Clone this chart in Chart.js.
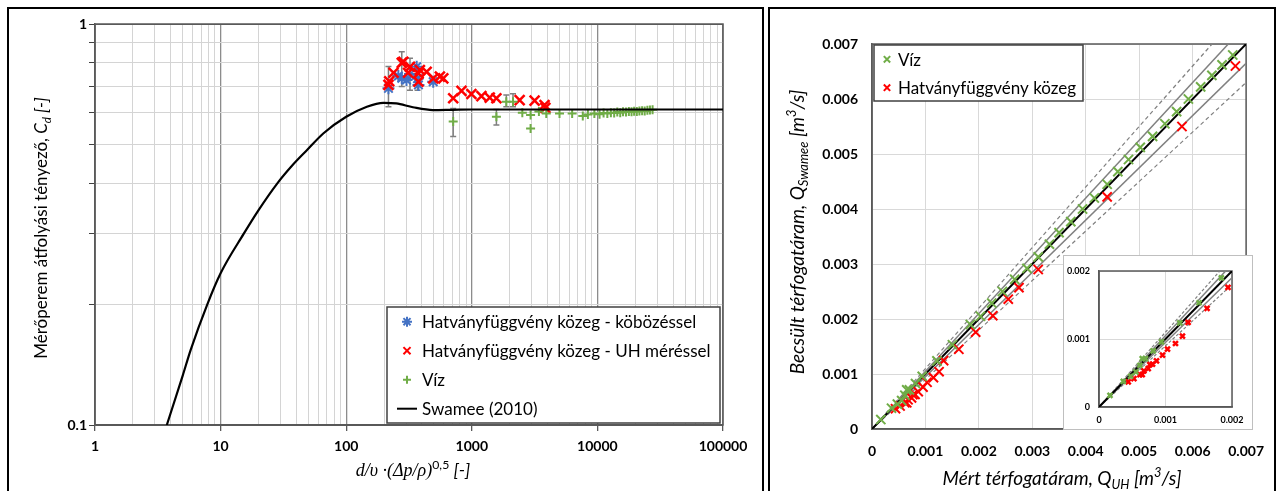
<!DOCTYPE html>
<html>
<head>
<meta charset="utf-8">
<script src="https://cdn.jsdelivr.net/npm/chart.js@4/dist/chart.umd.min.js"></script>
<style>
  body { margin: 0; background: #fff; }
  #wrap { position: relative; width: 1278px; height: 491px; overflow: hidden; }
  .frame { position: absolute; border: 2px solid #000; box-sizing: border-box; }
  canvas { position: absolute; }
  #insetBox { position: absolute; left: 1063px; top: 255px; width: 190px; height: 175px;
              background: #fff; border: 1px solid #bfbfbf; box-sizing: border-box; }
</style>
</head>
<body>
<div id="wrap">
  <div class="frame" style="left:7px;top:7px;width:757px;height:500px"></div>
  <div class="frame" style="left:768px;top:7px;width:508px;height:500px"></div>
  <canvas id="cdChart" width="766" height="491" style="left:0;top:0"></canvas>
  <canvas id="qChart" width="512" height="491" style="left:766px;top:0"></canvas>
  <div id="insetBox"></div>
  <canvas id="insetChart" width="188" height="172" style="left:1064px;top:256px"></canvas>
</div>
<script>
var FONT = 'Lato, "Open Sans", sans-serif';
var GREEN = '#70ad47', RED = '#ff0000', BLUE = '#4472c4';

// ---- bal diagram: Cd a d/v*(dp/rho)^0.5 fuggvenyeben ----
var xDecades = [1, 10, 100, 1000, 10000, 100000];
var xTickLabels = ['1', '10', '100', '1000', '10000', '100000'];
var yDecades = [0.1, 1];
var yTickLabels = ['0.1', '1'];
var minorSteps = [2, 3, 4, 5, 6, 7, 8, 9];

var swameeX = [3.73, 5, 5.78, 7.84, 10, 15.3, 20, 28.2, 37, 48.8, 66, 100, 146, 198, 250, 340, 490, 700, 1000, 100000];
var swameeY = [0.1, 0.133, 0.154, 0.2, 0.239, 0.3, 0.343, 0.4, 0.443, 0.485, 0.534, 0.587, 0.622, 0.636, 0.634, 0.62, 0.61, 0.611, 0.612, 0.612];

var kobX  = [217, 260, 277, 302, 322, 364, 370, 376, 493];
var kobY  = [0.691, 0.742, 0.732, 0.725, 0.75, 0.782, 0.73, 0.705, 0.718];
var kobLo = [0.622, null, 0.698, null, 0.684, null, 0.684, null, null];
var kobHi = [0.783, null, 0.853, null, 0.821, null, 0.775, null, null];

var uhX = [217, 220, 238, 277, 285, 311, 322, 376, 376, 386, 437, 493, 557, 593, 711, 828, 993, 1193, 1389, 1570, 2404, 3163, 3795, 3850];
var uhY = [0.705, 0.72, 0.756, 0.80, 0.805, 0.756, 0.782, 0.753, 0.718, 0.768, 0.76, 0.732, 0.739, 0.732, 0.653, 0.681, 0.669, 0.661, 0.655, 0.653, 0.646, 0.644, 0.628, 0.618];

var vizX = [711, 1570, 1883, 2128, 2525, 2938, 2938, 3422, 3917, 4993, 6295, 7650, 8400, 9460, 10400, 11200, 12000, 12800, 13600, 14400, 15200, 16000, 16900, 17800, 18700, 19600, 20600, 21600, 22700, 23800, 25000, 26200, 27500];
var vizY = [0.571, 0.587, 0.64, 0.64, 0.601, 0.593, 0.549, 0.605, 0.598, 0.598, 0.598, 0.59, 0.595, 0.598, 0.596, 0.6, 0.598, 0.601, 0.6, 0.603, 0.601, 0.604, 0.603, 0.605, 0.604, 0.606, 0.605, 0.607, 0.608, 0.607, 0.609, 0.61, 0.611];
var vizLo = [0.524, 0.56, 0.622, 0.622];
var vizHi = [0.616, 0.612, 0.665, 0.67];

// ---- jobb diagram: becsult vs mert terfogataram ----
var qTicks = [0, 0.001, 0.002, 0.003, 0.004, 0.005, 0.006, 0.007];
var qTickLabels = ['0', '0.001', '0.002', '0.003', '0.004', '0.005', '0.006', '0.007'];
var insetTicks = [0, 0.001, 0.002];
var insetTickLabels = ['0', '0.001', '0.002'];

var qVizX = [0.000165, 0.000365, 0.000475, 0.000555, 0.000615, 0.00065, 0.0007, 0.000815, 0.00094, 0.001215, 0.001505, 0.00184, 0.00203, 0.00224, 0.00244, 0.00267, 0.0029, 0.00311, 0.00332, 0.0035, 0.00372, 0.00394, 0.00416, 0.0044, 0.0046, 0.0048, 0.00502, 0.00525, 0.00548, 0.0057, 0.00592, 0.00615, 0.00636, 0.00655, 0.00675];
var qVizY = [0.000172, 0.000378, 0.000452, 0.000516, 0.000614, 0.000712, 0.000712, 0.000826, 0.000958, 0.001238, 0.001533, 0.0019, 0.00205, 0.00229, 0.0025, 0.00272, 0.00292, 0.00313, 0.00336, 0.00357, 0.00377, 0.004, 0.0042, 0.00445, 0.00468, 0.0049, 0.00512, 0.00532, 0.00555, 0.00577, 0.006, 0.00622, 0.00643, 0.00662, 0.0068];

var qHatvX = [0.00044, 0.000525, 0.000615, 0.00065, 0.000675, 0.00074, 0.000765, 0.000805, 0.000865, 0.000955, 0.00103, 0.00115, 0.001255, 0.00134, 0.001625, 0.00194, 0.00226, 0.00255, 0.00275, 0.00311, 0.0044, 0.0058, 0.0068];
var qHatvY = [0.000369, 0.000418, 0.000477, 0.000477, 0.000531, 0.000565, 0.000624, 0.000629, 0.000678, 0.000762, 0.00085, 0.000934, 0.001042, 0.001243, 0.00145, 0.00176, 0.00206, 0.00236, 0.00257, 0.0029, 0.00422, 0.0055, 0.0066];

// 1:1 egyenes es a +-5 %, +-10 % savok vegpontjai
var refX = [0, 0.007];
var refY = [0, 0.007];
var plus5Y = [0, 0.00735];
var minus5Y = [0, 0.00665];
var plus10Y = [0, 0.0077];
var minus10Y = [0, 0.0063];

function toXY(xs, ys) {
  var out = [];
  for (var i = 0; i < xs.length; i++) out.push({ x: xs[i], y: ys[i] });
  return out;
}

function drawMark(ctx, style, x, y, r) {
  var d = r * 0.7071;
  ctx.beginPath();
  if (style == 'cross' || style == 'star') {
    ctx.moveTo(x - r, y); ctx.lineTo(x + r, y);
    ctx.moveTo(x, y - r); ctx.lineTo(x, y + r);
  }
  if (style == 'crossRot' || style == 'star') {
    ctx.moveTo(x - d, y - d); ctx.lineTo(x + d, y + d);
    ctx.moveTo(x - d, y + d); ctx.lineTo(x + d, y - d);
  }
  ctx.stroke();
}

// szoveg also/felso indexszel
function drawRich(ctx, item) {
  var size = item.size;
  function fontOf(p) {
    var s = (p.sub || p.sup) ? size * 0.68 : size;
    return (p.it ? 'italic ' : '') + s + 'px ' + (p.fam || item.fam || FONT);
  }
  var widths = [], total = 0;
  item.parts.forEach(function(p) {
    ctx.font = fontOf(p);
    var w = ctx.measureText(p.t).width;
    widths.push(w); total += w;
  });
  ctx.save();
  ctx.translate(item.x, item.y);
  if (item.rotate) ctx.rotate(-Math.PI / 2);
  ctx.fillStyle = '#000';
  ctx.textBaseline = 'alphabetic';
  ctx.textAlign = 'left';
  var x = -total / 2, base = size * 0.35;
  item.parts.forEach(function(p, i) {
    ctx.font = fontOf(p);
    var dy = p.sub ? size * 0.25 : (p.sup ? -size * 0.38 : 0);
    ctx.fillText(p.t, x, base + dy);
    x += widths[i];
  });
  ctx.restore();
}

function makeTitles(items) {
  return {
    id: 'richTitles',
    afterDraw: function(chart) {
      items.forEach(function(it) { drawRich(chart.ctx, it); });
    }
  };
}

function makeLegend(cfg) {
  return {
    id: 'boxLegend',
    afterDraw: function(chart) {
      var ctx = chart.ctx;
      ctx.save();
      ctx.fillStyle = '#fff';
      ctx.fillRect(cfg.x, cfg.y, cfg.w, cfg.h);
      ctx.strokeStyle = '#404040';
      ctx.lineWidth = 1.5;
      ctx.strokeRect(cfg.x, cfg.y, cfg.w, cfg.h);
      ctx.font = cfg.font;
      ctx.textBaseline = 'middle';
      cfg.items.forEach(function(idx, i) {
        var ds = chart.data.datasets[idx];
        var y = cfg.y + cfg.firstRow + i * cfg.rowH;
        var mx = cfg.x + cfg.markX;
        ctx.strokeStyle = ds.borderColor;
        if (ds.showLine) {
          ctx.lineWidth = 2;
          ctx.beginPath();
          ctx.moveTo(mx - 10, y); ctx.lineTo(mx + 10, y);
          ctx.stroke();
        } else {
          ctx.lineWidth = 2;
          drawMark(ctx, ds.pointStyle, mx, y, cfg.markR[i]);
        }
        ctx.fillStyle = '#000';
        ctx.fillText(ds.label, cfg.x + cfg.textX, y + 1);
      });
      ctx.restore();
    }
  };
}

var plotBox = {
  id: 'plotBox',
  beforeDatasetsDraw: function(chart) {
    var a = chart.chartArea, ctx = chart.ctx;
    ctx.save();
    ctx.strokeStyle = '#595959';
    ctx.lineWidth = 1.5;
    ctx.strokeRect(a.left, a.top, a.right - a.left, a.bottom - a.top);
    ctx.restore();
  }
};

var errorBars = {
  id: 'errorBars',
  beforeDatasetsDraw: function(chart) {
    var ctx = chart.ctx, ys = chart.scales.y;
    ctx.save();
    ctx.strokeStyle = '#7f7f7f';
    ctx.lineWidth = 1.5;
    chart.data.datasets.forEach(function(ds, i) {
      if (!ds.errLo) return;
      var meta = chart.getDatasetMeta(i);
      ds.errLo.forEach(function(lo, j) {
        if (lo == null) return;
        var x = meta.data[j].x;
        var y1 = ys.getPixelForValue(lo), y2 = ys.getPixelForValue(ds.errHi[j]);
        ctx.beginPath();
        ctx.moveTo(x, y1); ctx.lineTo(x, y2);
        ctx.moveTo(x - 3, y1); ctx.lineTo(x + 3, y1);
        ctx.moveTo(x - 3, y2); ctx.lineTo(x + 3, y2);
        ctx.stroke();
      });
    });
    ctx.restore();
  }
};

function logTicks(decades) {
  return function(scale) {
    var t = [];
    decades.forEach(function(d, i) {
      t.push({ value: d, major: true });
      if (i < decades.length - 1) {
        minorSteps.forEach(function(m) { t.push({ value: d * m, major: false }); });
      }
    });
    scale.ticks = t;
  };
}

function fixedTicks(values) {
  return function(scale) {
    scale.ticks = values.map(function(v) { return { value: v }; });
  };
}

function drawCdChart() {
  var ctx = document.getElementById('cdChart');
  new Chart(ctx, {
    type: 'scatter',
    data: {
      datasets: [{
        label: 'Hatványfüggvény közeg - köbözéssel',
        data: toXY(kobX, kobY), errLo: kobLo, errHi: kobHi,
        pointStyle: 'star', pointRadius: 6, pointBorderWidth: 2,
        borderColor: BLUE, backgroundColor: BLUE, order: 4
      }, {
        label: 'Hatványfüggvény közeg - UH méréssel',
        data: toXY(uhX, uhY),
        pointStyle: 'crossRot', pointRadius: 7, pointBorderWidth: 2.5,
        borderColor: RED, backgroundColor: RED, order: 3
      }, {
        label: 'Víz',
        data: toXY(vizX, vizY), errLo: vizLo, errHi: vizHi,
        pointStyle: 'cross', pointRadius: 4.5, pointBorderWidth: 2,
        borderColor: GREEN, backgroundColor: GREEN, order: 2
      }, {
        label: 'Swamee (2010)',
        data: toXY(swameeX, swameeY),
        showLine: true, pointRadius: 0, borderWidth: 2.2,
        borderColor: '#000', cubicInterpolationMode: 'monotone', order: 1
      }]
    },
    options: {
      responsive: false,
      animation: false,
      layout: { padding: { top: 24, right: 43, bottom: 0, left: 0 } },
      plugins: { legend: { display: false }, tooltip: { enabled: false } },
      scales: {
        x: {
          type: 'logarithmic', min: 1, max: 100000,
          afterBuildTicks: logTicks(xDecades),
          afterFit: function(s) { s.height = 66; },
          grid: {
            color: function(c) { return c.tick && c.tick.major ? '#8c8c8c' : '#d4d4d4'; },
            lineWidth: function(c) { return c.tick && c.tick.major ? 1.3 : 1; },
            tickColor: function(c) { return c.tick && c.tick.major ? '#595959' : 'rgba(0,0,0,0)'; },
            tickLength: 6
          },
          border: { color: '#595959', width: 1.5 },
          ticks: {
            autoSkip: false, maxRotation: 0, padding: 7, color: '#000',
            font: { family: FONT, size: 14, weight: 'bold' },
            callback: function(v) { var i = xDecades.indexOf(v); return i >= 0 ? xTickLabels[i] : ''; }
          }
        },
        y: {
          type: 'logarithmic', min: 0.1, max: 1,
          afterBuildTicks: logTicks(yDecades),
          afterFit: function(s) { s.width = 95; },
          grid: {
            color: function(c) { return c.tick && c.tick.major ? '#595959' : '#d4d4d4'; },
            tickColor: '#404040',
            tickLength: 6
          },
          border: { color: '#595959', width: 1.5 },
          ticks: {
            autoSkip: false, padding: 2, color: '#000',
            font: { family: FONT, size: 14, weight: 'bold' },
            callback: function(v) { var i = yDecades.indexOf(v); return i >= 0 ? yTickLabels[i] : ''; }
          }
        }
      }
    },
    plugins: [plotBox, errorBars,
      makeLegend({ x: 387, y: 307, w: 333, h: 116, firstRow: 14.7, rowH: 29, markX: 20, textX: 35,
                   font: '17px ' + FONT, items: [0, 1, 2, 3], markR: [5, 5, 4] }),
      makeTitles([
        { x: 41, y: 228, rotate: true, size: 17, parts: [
          { t: 'Mérőperem átfolyási tényező, ' }, { t: 'C', it: true }, { t: 'd', it: true, sub: true }, { t: ' [-]', it: true }] },
        { x: 413, y: 470, size: 18, fam: '"Liberation Serif", serif', parts: [
          { t: 'd/υ ·(Δp/ρ)', it: true }, { t: '0,5', sup: true, fam: FONT }, { t: ' [-]', it: true, fam: FONT }] }
      ])]
  });
}

function refDatasets(dash) {
  var grey = '#808080';
  return [
    { data: toXY(refX, refY), showLine: true, pointRadius: 0, borderColor: '#000', borderWidth: 2 },
    { data: toXY(refX, plus5Y), showLine: true, pointRadius: 0, borderColor: grey, borderWidth: 1.5 },
    { data: toXY(refX, minus5Y), showLine: true, pointRadius: 0, borderColor: grey, borderWidth: 1.5 },
    { data: toXY(refX, plus10Y), showLine: true, pointRadius: 0, borderColor: grey, borderWidth: 1.2, borderDash: dash },
    { data: toXY(refX, minus10Y), showLine: true, pointRadius: 0, borderColor: grey, borderWidth: 1.2, borderDash: dash }
  ];
}

function linScale(ticks, labels, fitFn, pad, fontSize) {
  return {
    type: 'linear', min: 0, max: ticks[ticks.length - 1],
    afterBuildTicks: fixedTicks(ticks),
    afterFit: fitFn,
    grid: { color: '#d9d9d9', drawTicks: false },
    border: { color: '#595959', width: 1.5 },
    ticks: {
      autoSkip: false, maxRotation: 0, padding: pad, color: '#000',
      font: { family: FONT, size: fontSize, weight: 'bold' },
      callback: function(v, i) { return labels[i]; }
    }
  };
}

function drawQChart() {
  var ds = [{
    label: 'Víz', data: toXY(qVizX, qVizY),
    pointStyle: 'crossRot', pointRadius: 6.5, pointBorderWidth: 2,
    borderColor: GREEN, backgroundColor: GREEN
  }, {
    label: 'Hatványfüggvény közeg', data: toXY(qHatvX, qHatvY),
    pointStyle: 'crossRot', pointRadius: 6.5, pointBorderWidth: 2,
    borderColor: RED, backgroundColor: RED
  }].concat(refDatasets([4, 3]));

  new Chart(document.getElementById('qChart'), {
    type: 'scatter',
    data: { datasets: ds },
    options: {
      responsive: false,
      animation: false,
      layout: { padding: { top: 44, right: 25, bottom: 0, left: 0 } },
      plugins: { legend: { display: false }, tooltip: { enabled: false } },
      scales: {
        x: linScale(qTicks, qTickLabels, function(s) { s.height = 62; }, 14, 14),
        y: linScale(qTicks, qTickLabels, function(s) { s.width = 106; }, 14, 14)
      }
    },
    plugins: [plotBox,
      makeLegend({ x: 108, y: 45, w: 209, h: 56, firstRow: 14.3, rowH: 28.4, markX: 13, textX: 24,
                   font: '17px ' + FONT, items: [0, 1], markR: [4.5, 4.5] }),
      makeTitles([
        { x: 31, y: 232, rotate: true, size: 19, parts: [
          { t: 'Becsült térfogatáram, Q', it: true }, { t: 'Swamee', it: true, sub: true },
          { t: ' [m', it: true }, { t: '3', it: true, sup: true }, { t: '/s]', it: true }] },
        { x: 296, y: 478, size: 19, parts: [
          { t: 'Mért térfogatáram, Q', it: true }, { t: 'UH', it: true, sub: true },
          { t: ' [m', it: true }, { t: '3', it: true, sup: true }, { t: '/s]', it: true }] }
      ])]
  });
}

function drawInset() {
  var ds = [{
    data: toXY(qVizX, qVizY), clip: 0,
    pointStyle: 'crossRot', pointRadius: 3.5, pointBorderWidth: 2.5,
    borderColor: GREEN, backgroundColor: GREEN
  }, {
    data: toXY(qHatvX, qHatvY), clip: 0,
    pointStyle: 'crossRot', pointRadius: 3.5, pointBorderWidth: 2.5,
    borderColor: RED, backgroundColor: RED
  }].concat(refDatasets([3, 2]));

  new Chart(document.getElementById('insetChart'), {
    type: 'scatter',
    data: { datasets: ds },
    options: {
      responsive: false,
      animation: false,
      layout: { padding: { top: 15, right: 20, bottom: 0, left: 0 } },
      plugins: { legend: { display: false }, tooltip: { enabled: false } },
      scales: {
        x: linScale(insetTicks, insetTickLabels, function(s) { s.height = 21; }, 8, 9),
        y: linScale(insetTicks, insetTickLabels, function(s) { s.width = 35; }, 9, 9)
      }
    },
    plugins: [plotBox]
  });
}

function init() {
  drawCdChart();
  drawQChart();
  drawInset();
}

init();
</script>
</body>
</html>
